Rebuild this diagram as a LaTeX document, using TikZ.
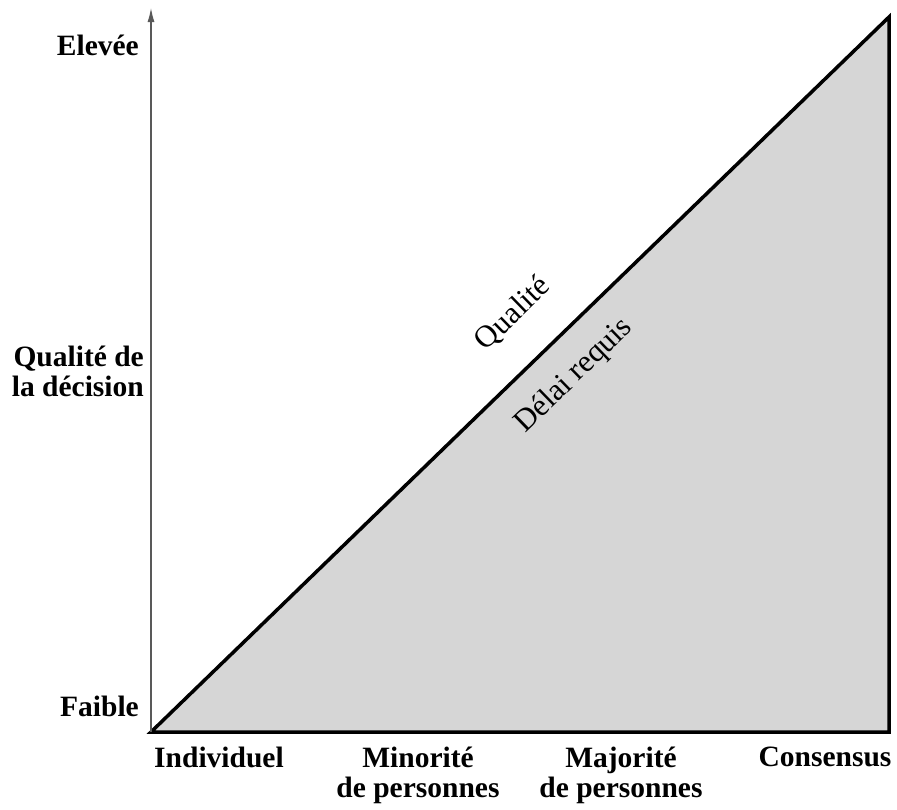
\documentclass[tikz,border=0pt]{standalone}
\usepackage{fontspec}
\setmainfont{Liberation Serif}
\usepackage{tikz}
\usetikzlibrary{arrows.meta}

\begin{document}
\begin{tikzpicture}[
        x=1pt, y=-1pt,
        axislabel/.style={
            font=\fontsize{29.5}{30}\selectfont\bfseries,
            inner sep=0pt
        },
        slopelabel/.style={
            font=\fontsize{31}{32}\selectfont,
            inner sep=0pt, rotate=44.1
        },
        axisline/.style={draw=gray!70!black, line width=1.2pt},
        wedge/.style={draw=black, line width=3.5pt, fill=gray!32, line join=miter}
    ]

        \useasboundingbox (0,0) rectangle (897,809);

        \coordinate (Origin) at (151,732);
        \coordinate (AxisTop) at (151,8);
        \coordinate (Peak) at (889,17);
        \coordinate (Corner) at (889,732);

        % triangle
        \filldraw[wedge] (Origin) -- (Peak) -- (Corner) -- cycle;
        \draw[axisline, -{Latex[length=14pt, width=7pt]}] (Origin) -- (AxisTop);

        % vertical axis labels
        \node[axislabel, anchor=east] (Elevee) at (139,45) {Elevée};
        \node[axislabel, anchor=east, align=right] (Qualite) at (144,371) {Qualité de\\la décision};
        \node[axislabel, anchor=east] (Faible) at (139,706) {Faible};

        % horizontal axis labels
        \node[axislabel, anchor=north] (Individuel) at (219,747) {Individuel};
        \node[axislabel, anchor=north, align=center] (Minorite) at (418,747) {Minorité\\de personnes};
        \node[axislabel, anchor=north, align=center] (Majorite) at (621,747) {Majorité\\de personnes};
        \node[axislabel, anchor=north] (Consensus) at (825,747) {Consensus};

        % diagonal labels
        \node[slopelabel] (QualiteSlope) at (513,314) {Qualité};
        \node[slopelabel] (Delai) at (574,376) {Délai requis};

    \end{tikzpicture}
\end{document}
